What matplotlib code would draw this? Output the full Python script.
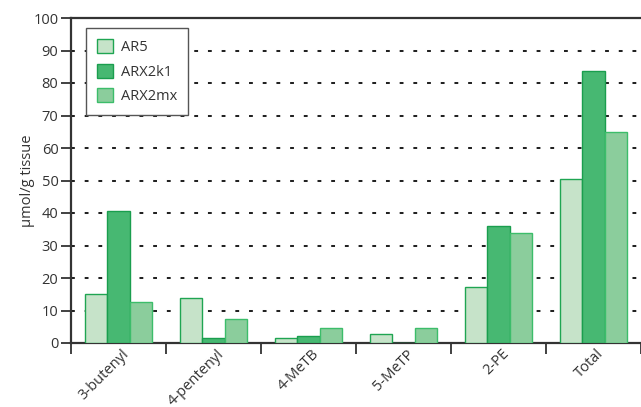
import matplotlib
matplotlib.use("Agg")
import matplotlib.pyplot as plt
import numpy as np

# Glucosinolate content per line (µmol/g tissue)
categories = ["3-butenyl", "4-pentenyl", "4-MeTB", "5-MeTP", "2-PE", "Total"]
series_names = ["AR5", "ARX2k1", "ARX2mx"]
ar5 = [15.1, 13.8, 1.4, 2.7, 17.1, 50.5]
arx2k1 = [40.6, 1.4, 2.1, 0.0, 36.1, 83.8]
arx2mx = [12.5, 7.3, 4.7, 4.7, 34.0, 64.8]
y_ticks = list(range(0, 101, 10))

face_colors = ["#c6e3c9", "#47b872", "#8bcd9c"]
edge_colors = ["#1fa552", "#1a9e4e", "#3cbd6a"]

plt.rcParams["font.family"] = ["Open Sans", "DejaVu Sans"]
plt.rcParams["font.size"] = 10

fig = plt.figure(figsize=(6.41, 4.07), dpi=100)
ax = fig.add_axes([71 / 641, 1 - 343 / 407, 1 - 71 / 641, (343 - 18) / 407])

x = np.arange(len(categories))
width = 0.233
for i, (name, vals) in enumerate(zip(series_names, [ar5, arx2k1, arx2mx])):
    ax.bar(x + (i - 1) * width, vals, width, color=face_colors[i],
           edgecolor=edge_colors[i], linewidth=1.0, label=name, zorder=3)

ax.set_xlim(-0.5, 5.44)
ax.set_ylim(0, 100)
ax.set_yticks(y_ticks)

# dotted horizontal guides
for v in y_ticks[1:-1]:
    ax.axhline(v, color="#222222", linewidth=1.45,
               linestyle=(0, (1.9, 4.9)), zorder=1)

for side in ["left", "bottom", "top"]:
    ax.spines[side].set_linewidth(1.6)
    ax.spines[side].set_color("#333333")
ax.spines["right"].set_visible(False)

ax.tick_params(axis="y", direction="out", length=7, width=1.3,
               color="#333333", pad=2, labelsize=10.5, labelcolor="#333333")

# group separators as major ticks, category names as minor ticks
ax.set_xticks(np.arange(-0.5, 6.0, 1.0))
ax.set_xticklabels([])
ax.tick_params(axis="x", which="major", direction="out", length=8,
               width=1.3, color="#333333")
ax.set_xticks(x + 0.03, categories, minor=True)
ax.tick_params(axis="x", which="minor", length=0, pad=2.5,
               labelsize=10.5, labelcolor="#333333")
for lbl in ax.get_xticklabels(minor=True):
    lbl.set_rotation(45)
    lbl.set_ha("right")
    lbl.set_va("top")
    lbl.set_rotation_mode("anchor")

ax.set_ylabel("μmol/g tissue", fontsize=10.5, color="#333333", labelpad=-1)

leg = ax.legend(loc="upper left", bbox_to_anchor=(0.026, 0.969),
                frameon=True, fancybox=False, fontsize=10.5,
                handlelength=1.1, handleheight=1.1, handletextpad=0.55,
                labelspacing=0.6, borderpad=0.75, borderaxespad=0.0)
leg.get_frame().set_edgecolor("#555555")
leg.get_frame().set_linewidth(1.0)
leg.get_frame().set_facecolor("white")
leg.get_frame().set_alpha(1.0)
leg.set_zorder(5)
for t in leg.get_texts():
    t.set_color("#333333")

fig.savefig("out.png", dpi=100)
